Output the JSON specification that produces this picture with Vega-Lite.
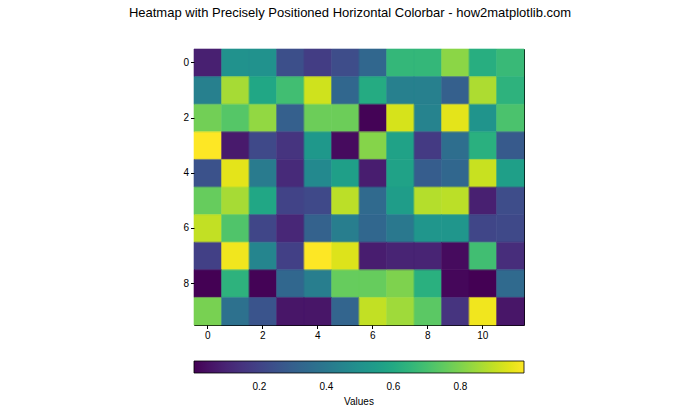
{
  "$schema": "https://vega.github.io/schema/vega-lite/v6.json",
  "width": 330,
  "height": 276,
  "autosize": {"type": "none"},
  "padding": {"left": 194, "top": 49, "right": 176, "bottom": 95},
  "background": "white",
  "title": {"text": "Heatmap with Precisely Positioned Horizontal Colorbar - how2matplotlib.com", "font": "Liberation Sans", "fontSize": 13, "fontWeight": "normal", "color": "black", "anchor": "middle", "frame": "group", "dx": -9, "offset": 29},
  "config": {
    "view": {"stroke": "black", "strokeWidth": 1},
    "axis": {"labelFont": "Liberation Sans", "labelFontSize": 10, "labelColor": "black", "tickColor": "black", "tickSize": 3.5, "labelPadding": 2, "domain": false, "grid": false, "title": null},
    "legend": {"labelFont": "Liberation Sans", "titleFont": "Liberation Sans"}
  },
  "data": {"values": [
    {"r":0,"c":0,"v":0.09},{"r":0,"c":1,"v":0.5},{"r":0,"c":2,"v":0.5},{"r":0,"c":3,"v":0.24},{"r":0,"c":4,"v":0.18},{"r":0,"c":5,"v":0.23},{"r":0,"c":6,"v":0.33},{"r":0,"c":7,"v":0.66},{"r":0,"c":8,"v":0.66},{"r":0,"c":9,"v":0.82},{"r":0,"c":10,"v":0.62},{"r":0,"c":11,"v":0.67},
    {"r":1,"c":0,"v":0.43},{"r":1,"c":1,"v":0.86},{"r":1,"c":2,"v":0.59},{"r":1,"c":3,"v":0.69},{"r":1,"c":4,"v":0.92},{"r":1,"c":5,"v":0.33},{"r":1,"c":6,"v":0.61},{"r":1,"c":7,"v":0.43},{"r":1,"c":8,"v":0.43},{"r":1,"c":9,"v":0.3},{"r":1,"c":10,"v":0.87},{"r":1,"c":11,"v":0.64},
    {"r":2,"c":0,"v":0.78},{"r":2,"c":1,"v":0.73},{"r":2,"c":2,"v":0.83},{"r":2,"c":3,"v":0.3},{"r":2,"c":4,"v":0.77},{"r":2,"c":5,"v":0.77},{"r":2,"c":6,"v":0.01},{"r":2,"c":7,"v":0.93},{"r":2,"c":8,"v":0.44},{"r":2,"c":9,"v":0.95},{"r":2,"c":10,"v":0.51},{"r":2,"c":11,"v":0.71},
    {"r":3,"c":0,"v":0.99},{"r":3,"c":1,"v":0.07},{"r":3,"c":2,"v":0.22},{"r":3,"c":3,"v":0.15},{"r":3,"c":4,"v":0.53},{"r":3,"c":5,"v":0.03},{"r":3,"c":6,"v":0.81},{"r":3,"c":7,"v":0.57},{"r":3,"c":8,"v":0.17},{"r":3,"c":9,"v":0.36},{"r":3,"c":10,"v":0.63},{"r":3,"c":11,"v":0.28},
    {"r":4,"c":0,"v":0.25},{"r":4,"c":1,"v":0.95},{"r":4,"c":2,"v":0.41},{"r":4,"c":3,"v":0.12},{"r":4,"c":4,"v":0.47},{"r":4,"c":5,"v":0.56},{"r":4,"c":6,"v":0.08},{"r":4,"c":7,"v":0.57},{"r":4,"c":8,"v":0.29},{"r":4,"c":9,"v":0.33},{"r":4,"c":10,"v":0.91},{"r":4,"c":11,"v":0.56},
    {"r":5,"c":0,"v":0.76},{"r":5,"c":1,"v":0.86},{"r":5,"c":2,"v":0.59},{"r":5,"c":3,"v":0.2},{"r":5,"c":4,"v":0.22},{"r":5,"c":5,"v":0.89},{"r":5,"c":6,"v":0.34},{"r":5,"c":7,"v":0.55},{"r":5,"c":8,"v":0.88},{"r":5,"c":9,"v":0.89},{"r":5,"c":10,"v":0.09},{"r":5,"c":11,"v":0.23},
    {"r":6,"c":0,"v":0.9},{"r":6,"c":1,"v":0.72},{"r":6,"c":2,"v":0.21},{"r":6,"c":3,"v":0.11},{"r":6,"c":4,"v":0.31},{"r":6,"c":5,"v":0.42},{"r":6,"c":6,"v":0.33},{"r":6,"c":7,"v":0.4},{"r":6,"c":8,"v":0.52},{"r":6,"c":9,"v":0.52},{"r":6,"c":10,"v":0.21},{"r":6,"c":11,"v":0.22},
    {"r":7,"c":0,"v":0.19},{"r":7,"c":1,"v":0.97},{"r":7,"c":2,"v":0.45},{"r":7,"c":3,"v":0.19},{"r":7,"c":4,"v":0.99},{"r":7,"c":5,"v":0.94},{"r":7,"c":6,"v":0.08},{"r":7,"c":7,"v":0.1},{"r":7,"c":8,"v":0.1},{"r":7,"c":9,"v":0.03},{"r":7,"c":10,"v":0.69},{"r":7,"c":11,"v":0.13},
    {"r":8,"c":0,"v":0.005},{"r":8,"c":1,"v":0.64},{"r":8,"c":2,"v":0.01},{"r":8,"c":3,"v":0.33},{"r":8,"c":4,"v":0.42},{"r":8,"c":5,"v":0.76},{"r":8,"c":6,"v":0.76},{"r":8,"c":7,"v":0.8},{"r":8,"c":8,"v":0.63},{"r":8,"c":9,"v":0.02},{"r":8,"c":10,"v":0.005},{"r":8,"c":11,"v":0.34},
    {"r":9,"c":0,"v":0.79},{"r":9,"c":1,"v":0.37},{"r":9,"c":2,"v":0.26},{"r":9,"c":3,"v":0.06},{"r":9,"c":4,"v":0.06},{"r":9,"c":5,"v":0.32},{"r":9,"c":6,"v":0.9},{"r":9,"c":7,"v":0.85},{"r":9,"c":8,"v":0.74},{"r":9,"c":9,"v":0.15},{"r":9,"c":10,"v":0.97},{"r":9,"c":11,"v":0.06}
  ]},
  "encoding": {
    "x": {"field": "c", "type": "ordinal", "scale": {"paddingInner": 0, "paddingOuter": 0}, "axis": {"values": [0,2,4,6,8,10], "labelAngle": 0}},
    "y": {"field": "r", "type": "ordinal", "scale": {"paddingInner": 0, "paddingOuter": 0}, "axis": {"values": [0,2,4,6,8]}}
  },
  "layer": [
    {
      "mark": {"type": "rect"},
      "encoding": {
        "color": {"field": "v", "type": "quantitative", "scale": {"scheme": "viridis", "zero": false, "nice": false},
          "legend": {"orient": "none", "legendX": 0, "legendY": 312, "direction": "horizontal", "gradientLength": 330, "gradientThickness": 12, "gradientStrokeColor": "black", "gradientStrokeWidth": 0.8, "values": [0.2,0.4,0.6,0.8], "format": ".1f", "labelFontSize": 10, "labelColor": "black", "labelOffset": 9, "title": "Values", "titleOrient": "bottom", "titleAnchor": "middle", "titleFontSize": 10, "titleFontWeight": "normal", "titleColor": "black", "titlePadding": 5}}
      }
    },
    {
      "mark": {"type": "rect", "filled": false, "strokeWidth": 0.6},
      "encoding": {
        "stroke": {"field": "v", "type": "quantitative", "scale": {"scheme": "viridis", "zero": false, "nice": false}, "legend": null}
      }
    }
  ]
}
